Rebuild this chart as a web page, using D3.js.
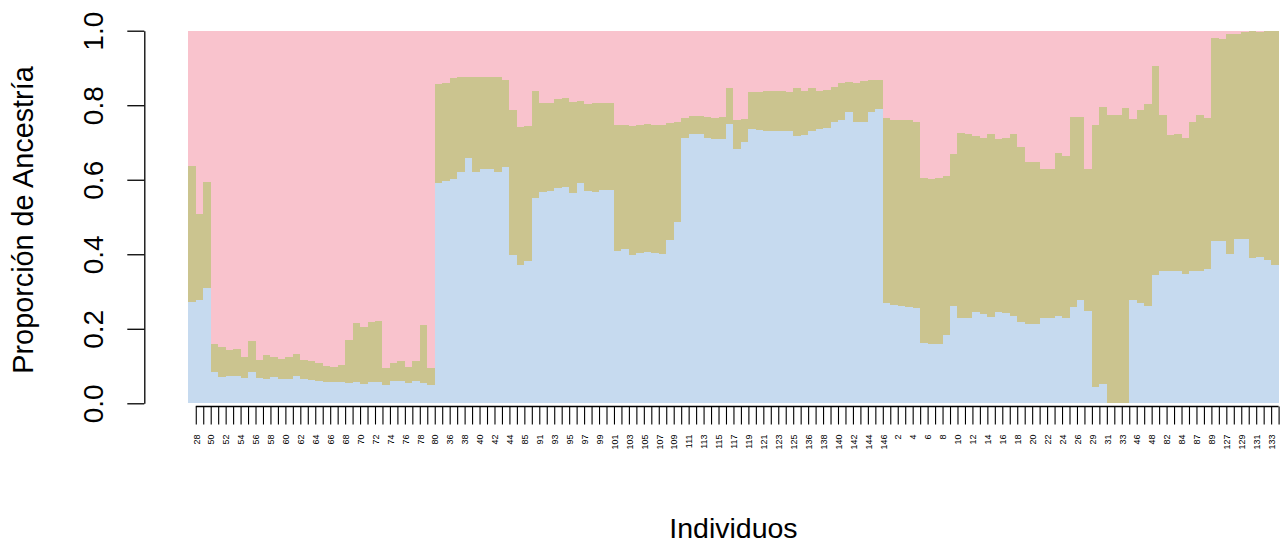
<!DOCTYPE html>
<html>
<head>
<meta charset="utf-8">
<script src="https://cdn.jsdelivr.net/npm/d3@7"></script>
<style>
  html, body { margin: 0; padding: 0; background: #ffffff; }
  svg { display: block; font-family: "Liberation Sans", Arial, sans-serif; }
</style>
</head>
<body>
<svg id="chart" width="1284" height="545"></svg>
<script>
// Individual IDs, in plotting order (grouped by cluster)
const individuos = [
  28, 49, 50, 51, 52, 53, 54, 55, 56, 57, 58, 59, 60, 61, 62, 63, 64, 65, 66, 67,
  68, 69, 70, 71, 72, 73, 74, 75, 76, 77, 78, 79, 80,
  35, 36, 37, 38, 39, 40, 41, 42, 43, 44, 45, 85, 90,
  91, 92, 93, 94, 95, 96, 97, 98, 99, 100, 101, 102, 103, 104, 105, 106, 107, 108,
  109, 110, 111, 112, 113, 114, 115, 116, 117, 118, 119, 120, 121, 122, 123, 124, 125,
  135, 136, 137, 138, 139, 140, 141, 142, 143, 144, 145, 146,
  1, 2, 3, 4, 5, 6, 7, 8, 9, 10, 11, 12, 13, 14, 15, 16, 17, 18, 19, 20,
  21, 22, 23, 24, 25, 26, 27, 29, 30, 31, 32, 33, 34, 46, 47, 48,
  81, 82, 83, 84, 86, 87, 88, 89, 126, 127, 128, 129, 130, 131, 132, 133, 134
];

// Ancestry proportion of each individual in cluster 1 (blue)
const cluster1 = [
  .273, .278, .310, .083, .070, .073, .074, .068, .083, .068, .065, .070, .066, .064, .074, .065, .063, .059, .056, .058,
  .056, .055, .056, .052, .058, .058, .049, .059, .061, .054, .061, .055, .049,
  .590, .596, .603, .620, .658, .620, .629, .628, .622, .633, .398, .372, .381,
  .551, .568, .571, .577, .580, .564, .592, .571, .568, .573, .573, .408, .415, .399, .404, .407, .404, .401,
  .437, .487, .713, .723, .723, .713, .709, .709, .750, .682, .702, .736, .734, .732, .730, .732, .730,
  .718, .720, .730, .736, .739, .755, .759, .781, .756, .756, .782, .789,
  .269, .265, .261, .259, .257, .161, .158, .158, .184, .261, .229, .229, .244, .239, .232, .244, .243, .235, .219, .214,
  .214, .228, .230, .233, .230, .258, .278, .249, .045, .052, .000, .000, .000, .276, .269, .262,
  .343, .354, .354, .355, .347, .354, .354, .360, .435, .435, .401, .440, .442, .389, .392, .385, .372
];

// Ancestry proportion in cluster 2 (olive)
const cluster2 = [
  .363, .230, .284, .076, .080, .071, .072, .055, .085, .049, .064, .055, .054, .059, .057, .050, .051, .049, .045, .040,
  .048, .115, .160, .152, .160, .163, .045, .049, .052, .044, .052, .156, .045,
  .266, .263, .271, .257, .219, .257, .246, .247, .253, .236, .389, .369, .364,
  .286, .238, .235, .240, .240, .245, .219, .233, .238, .233, .233, .340, .331, .346, .344, .343, .343, .345,
  .316, .269, .054, .047, .049, .055, .057, .059, .096, .079, .061, .100, .101, .105, .108, .107, .105,
  .128, .119, .116, .103, .101, .094, .100, .082, .103, .110, .085, .079,
  .496, .496, .500, .502, .499, .444, .445, .446, .427, .409, .497, .494, .473, .474, .492, .464, .470, .488, .469, .433,
  .433, .400, .398, .438, .434, .511, .491, .379, .703, .744, .774, .774, .793, .486, .517, .541,
  .561, .420, .365, .367, .366, .401, .420, .407, .546, .544, .591, .550, .554, .609, .604, .614, .627
];

// Ancestry proportion in cluster 3 (pink)
const cluster3 = [
  .364, .492, .406, .841, .850, .856, .854, .877, .832, .883, .871, .875, .880, .877, .869, .885, .886, .892, .899, .902,
  .896, .830, .784, .796, .782, .779, .906, .892, .887, .902, .887, .789, .906,
  .144, .141, .126, .123, .123, .123, .125, .125, .125, .131, .213, .259, .255,
  .163, .194, .194, .183, .180, .191, .189, .196, .194, .194, .194, .252, .254, .255, .252, .250, .253, .254,
  .247, .244, .233, .230, .228, .232, .234, .232, .154, .239, .237, .164, .165, .163, .162, .161, .165,
  .154, .161, .154, .161, .160, .151, .141, .137, .141, .134, .133, .132,
  .235, .239, .239, .239, .244, .395, .397, .396, .389, .330, .274, .277, .283, .287, .276, .292, .287, .277, .312, .353,
  .353, .372, .372, .329, .336, .231, .231, .372, .252, .204, .226, .226, .207, .238, .214, .197,
  .096, .226, .281, .278, .287, .245, .226, .233, .019, .021, .008, .010, .004, .002, .004, .001, .001
];

const clusterKeys = ["k1", "k2", "k3"];
const clusterColors = ["#c6daef", "#cbc48f", "#f9c3cd"];
const yTicks = [0, 0.2, 0.4, 0.6, 0.8, 1.0];
const yTitle = "Proporción de Ancestría";
const xTitle = "Individuos";

const rows = individuos.map((id, i) => ({
  id: String(id), k1: cluster1[i], k2: cluster2[i], k3: cluster3[i]
}));

const svg = d3.select("#chart");
const plotLeft = 188.3, plotRight = 1278.6, plotTop = 30.7, plotBottom = 403.3;

const x = d3.scaleBand().domain(rows.map(d => d.id)).range([plotLeft, plotRight]).padding(0);
// Positions along the bar axis in "bar units" (0 .. n), used for the tick marks
const xPos = d3.scaleLinear().domain([0, rows.length]).range([plotLeft, plotRight]);
const y = d3.scaleLinear().domain([0, 1]).range([plotBottom, plotTop]);

const series = d3.stack().keys(clusterKeys)(rows);

svg.append("g")
  .attr("shape-rendering", "crispEdges")
  .selectAll("g")
  .data(series)
  .join("g")
  .attr("fill", (s, i) => clusterColors[i])
  .selectAll("rect")
  .data(s => s)
  .join("rect")
  .attr("x", d => x(d.data.id))
  .attr("width", x.bandwidth())
  .attr("y", d => y(Math.min(1, d[1])))
  .attr("height", d => Math.max(0, y(d[0]) - y(Math.min(1, d[1]))));

// Y axis
const yAxis = svg.append("g")
  .attr("transform", `translate(144.3,0)`)
  .call(d3.axisLeft(y).tickValues(yTicks).tickSize(17).tickSizeOuter(0)
    .tickFormat(d3.format(".1f")));
yAxis.selectAll("path, line").attr("stroke", "#000").attr("stroke-width", 1.3);
yAxis.selectAll("text")
  .attr("x", null).attr("dy", null)
  .attr("text-anchor", "middle")
  .attr("transform", "translate(-41,0) rotate(-90)")
  .attr("font-size", 28)
  .attr("font-family", "Liberation Sans, Arial, sans-serif")
  .attr("fill", "#000");

// X axis: one tick per individual, labels on every second one
const xAxis = svg.append("g")
  .attr("transform", `translate(0,406.5)`)
  .call(d3.axisBottom(xPos).tickValues(d3.range(1, rows.length + 1)).tickSize(18).tickSizeOuter(0)
    .tickFormat(v => ((v - 1) % 2 === 0 ? rows[v - 1].id : "")));
xAxis.select(".domain").remove();
xAxis.append("line")
  .attr("x1", xPos(1)).attr("x2", xPos(rows.length))
  .attr("y1", 0).attr("y2", 0)
  .attr("stroke", "#000").attr("stroke-width", 1.3);
xAxis.selectAll(".tick line").attr("stroke", "#000").attr("stroke-width", 1.1);
xAxis.selectAll("text")
  .attr("y", null).attr("dy", "0.36em")
  .attr("text-anchor", "end")
  .attr("transform", "translate(0,28) rotate(-90)")
  .attr("font-size", 9)
  .attr("font-family", "Liberation Sans, Arial, sans-serif")
  .attr("fill", "#000");

// Axis titles
svg.append("text")
  .attr("x", (plotLeft + plotRight) / 2).attr("y", 538)
  .attr("text-anchor", "middle")
  .attr("font-size", 28.5)
  .attr("fill", "#000")
  .text(xTitle);

svg.append("text")
  .attr("transform", `translate(33,${(plotTop + plotBottom) / 2 + 3}) rotate(-90)`)
  .attr("text-anchor", "middle")
  .attr("font-size", 28.8)
  .attr("fill", "#000")
  .text(yTitle);
</script>
</body>
</html>
